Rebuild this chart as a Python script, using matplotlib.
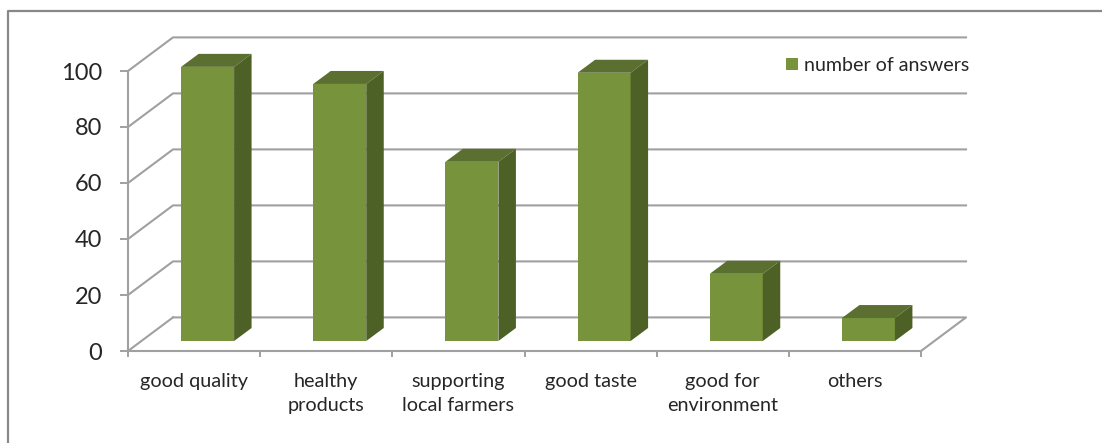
import matplotlib
matplotlib.use("Agg")
import matplotlib.pyplot as plt
from matplotlib.patches import Polygon
from matplotlib.lines import Line2D

categories = ["good quality", "healthy\nproducts", "supporting\nlocal farmers",
              "good taste", "good for\nenvironment", "others"]
values = [97.9, 91.8, 64.0, 95.8, 24.0, 8.2]
series_name = "number of answers"
y_ticks = [0, 20, 40, 60, 80, 100]

W, H = 1102, 443
plt.rcParams["font.family"] = ["Lato", "DejaVu Sans"]
fig = plt.figure(figsize=(W / 100, H / 100), dpi=100)

# front plane of the pseudo-3D chart, in pixels
L, R, B, T = 128, 921, 351, 71
ax = fig.add_axes([L / W, 1 - B / H, (R - L) / W, (B - T) / H])
ax.set_xlim(-0.5, 5.5)
ax.set_ylim(0, 100)

ux = (R - L) / 6      # px per category
uy = (B - T) / 100    # px per value unit
wall_dx, wall_dy = 45 / ux, 33.6 / uy
depth_dx, depth_dy = 17.5 / ux, 13 / uy
bar_dx, bar_dy = 13.5 / ux, 10 / uy
bar_w = 53 / ux

GRID = "#a0a0a0"
TEXT = "#262626"
FRONT, TOP, SIDE = "#77933C", "#5B7030", "#4D6026"

# walls
for v in y_ticks:
    xs = [-0.5, -0.5 + wall_dx]
    ys = [v, v + wall_dy]
    if v > 0:
        xs = xs + [5.5 + wall_dx]
        ys = ys + [v + wall_dy]
    ax.plot(xs, ys, color=GRID, lw=1.5, clip_on=False, zorder=1)
ax.plot([-0.5 + wall_dx, 5.5 + wall_dx, 5.5], [wall_dy, wall_dy, 0],
        color=GRID, lw=1.5, clip_on=False, zorder=1)

# bars
positions = list(range(len(categories)))
front = ax.bar([p + bar_dx for p in positions], values, bottom=bar_dy, width=bar_w,
               color=FRONT, edgecolor="none", zorder=3, label=series_name, clip_on=False)
for p, v in zip(positions, values):
    x0 = p + bar_dx - bar_w / 2
    x1 = x0 + bar_w
    y0 = bar_dy
    y1 = bar_dy + v
    ax.add_patch(Polygon([(x0, y1), (x1, y1), (x1 + depth_dx, y1 + depth_dy), (x0 + depth_dx, y1 + depth_dy)],
                         closed=True, fc=TOP, ec="none", zorder=3, clip_on=False))
    ax.add_patch(Polygon([(x1, y0), (x1 + depth_dx, y0 + depth_dy), (x1 + depth_dx, y1 + depth_dy), (x1, y1)],
                         closed=True, fc=SIDE, ec="none", zorder=3, clip_on=False))

# axes
for s in ("top", "right"):
    ax.spines[s].set_visible(False)
for s in ("left", "bottom"):
    ax.spines[s].set_color(GRID)
    ax.spines[s].set_linewidth(1.5)
ax.patch.set_alpha(0)
ax.set_yticks(y_ticks)
ax.tick_params(axis="y", length=5.5, width=1.4, color=GRID, labelsize=17, labelcolor=TEXT, pad=13)
ax.set_xticks([p - 0.5 for p in range(len(categories) + 1)])
ax.set_xticklabels([])
ax.tick_params(axis="x", which="major", length=4.5, width=1.4, color=GRID)
ax.set_xticks(positions, minor=True)
ax.set_xticklabels(categories, minor=True, fontsize=14.3, color=TEXT, linespacing=1.5)
ax.tick_params(axis="x", which="minor", length=0, pad=16)

# legend
ax.legend(handles=[front], loc="upper left",
          bbox_to_anchor=((782 - L) / (R - L), (B - 53) / (B - T)),
          frameon=False, fontsize=14.1, labelcolor=TEXT, handlelength=0.62, handleheight=0.62,
          handletextpad=0.3, borderpad=0.2, borderaxespad=0)

# outer chart frame (only top and left edges are visible)
fig.add_artist(Line2D([7.5 / W, 7.5 / W, 1], [0, 1 - 11 / H, 1 - 11 / H], color="#888888", lw=1.6,
                      transform=fig.transFigure))

fig.savefig("out.png", dpi=100, facecolor="white")
